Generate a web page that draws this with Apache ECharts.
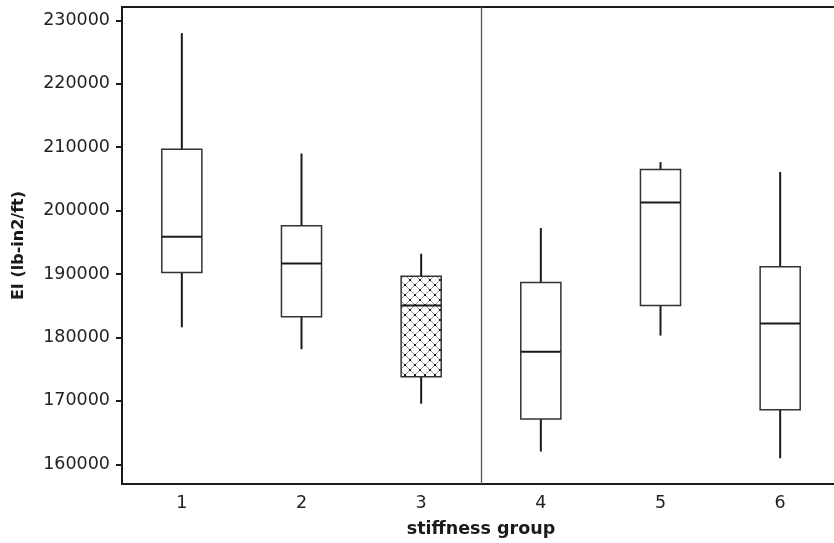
<!DOCTYPE html>
<html>
<head>
<meta charset="utf-8">
<script src="https://cdn.jsdelivr.net/npm/echarts@6/dist/echarts.min.js"></script>
<style>
  html, body { margin: 0; padding: 0; background: #ffffff; }
  #chart { width: 834px; height: 543px; }
</style>
</head>
<body>
<div id="chart"></div>
<script>
// stiffness groups and box statistics
const groups = ['1', '2', '3', '4', '5', '6'];
const lowWhisker  = [181600, 178150, 169550, 162000, 180300, 160950];
const q1          = [190250, 183250, 173800, 167150, 185050, 168600];
const median      = [195900, 191650, 185050, 177750, 201300, 182200];
const q3          = [209700, 197600, 189650, 188650, 206500, 191150];
const highWhisker = [228000, 209000, 193200, 197250, 207650, 206100];
const hatched     = [false, false, true, false, false, false];
const yTicks = [160000, 170000, 180000, 190000, 200000, 210000, 220000, 230000];

// crosshatch tile used for group 3
function makeHatch() {
    let c = document.createElement('canvas');
    c.width = 10; c.height = 10;
    let ctx = c.getContext('2d');
    ctx.fillStyle = '#ffffff';
    ctx.fillRect(0, 0, 10, 10);
    ctx.strokeStyle = '#999';
    ctx.lineWidth = 1;
    ctx.beginPath();
    ctx.moveTo(0, 0); ctx.lineTo(10, 10);
    ctx.moveTo(10, 0); ctx.lineTo(0, 10);
    ctx.stroke();
    ctx.fillStyle = '#1a1a1a';
    ctx.fillRect(4, 4, 2, 2);
    ctx.fillRect(0, 0, 1, 1); ctx.fillRect(9, 0, 1, 1);
    ctx.fillRect(0, 9, 1, 1); ctx.fillRect(9, 9, 1, 1);
    return c;
}
const hatchCanvas = makeHatch();

const boxData = groups.map((g, i) => [i, lowWhisker[i], q1[i], median[i], q3[i], highWhisker[i]]);

const ink = '#1a1a1a';

let myChart = echarts.init(document.getElementById('chart'));
myChart.setOption({
    animation: false,
    backgroundColor: '#ffffff',
    grid: {
        show: true,
        left: 122,
        top: 7,
        width: 718,
        bottom: 59,
        outerBoundsMode: 'none',
        containLabel: false,
        borderColor: ink,
        borderWidth: 2,
        backgroundColor: 'transparent'
    },
    xAxis: {
        type: 'category',
        data: groups,
        boundaryGap: true,
        name: 'stiffness group',
        nameLocation: 'middle',
        nameGap: 36,
        nameTextStyle: {
            fontFamily: 'DejaVu Sans',
            fontWeight: 'bold',
            fontSize: 17.5,
            color: ink
        },
        axisLine: { lineStyle: { color: ink, width: 2 } },
        axisTick: { alignWithLabel: true, length: 6, lineStyle: { color: ink, width: 2 } },
        axisLabel: { fontFamily: 'DejaVu Sans', fontSize: 17.5, color: '#222', margin: 10 },
        splitLine: { show: false }
    },
    yAxis: {
        type: 'value',
        min: 156890,
        max: 232115,
        name: 'EI (lb-in2/ft)',
        nameLocation: 'middle',
        nameGap: 95,
        nameRotate: 90,
        nameTextStyle: {
            fontFamily: 'DejaVu Sans',
            fontWeight: 'bold',
            fontSize: 16,
            color: ink
        },
        axisLine: { show: true, lineStyle: { color: ink, width: 2 } },
        axisTick: { show: true, length: 6, customValues: yTicks, lineStyle: { color: ink, width: 2 } },
        axisLabel: {
            customValues: yTicks,
            formatter: function (v) { return String(v); },
            fontFamily: 'DejaVu Sans', fontSize: 17.5, color: '#222', margin: 12
        },
        splitLine: { show: false }
    },
    series: [
        {
            // divider between groups 3 and 4
            type: 'custom',
            data: [[2, 3]],
            encode: { x: [0, 1] },
            renderItem: function (params, api) {
                let xa = api.coord([api.value(0), 0])[0];
                let xb = api.coord([api.value(1), 0])[0];
                let x = Math.round((xa + xb) / 2) + 0.5;
                let cs = params.coordSys;
                return {
                    type: 'line',
                    shape: { x1: x, y1: cs.y, x2: x, y2: cs.y + cs.height },
                    style: { stroke: '#555', lineWidth: 1.3 }
                };
            }
        },
        {
            type: 'custom',
            data: boxData,
            encode: { x: 0, y: [1, 2, 3, 4, 5] },
            renderItem: function (params, api) {
                let i = api.value(0);
                let x = api.coord([i, 0])[0];
                let w = api.size([1, 0])[0] * 0.335;
                let yLow = api.coord([i, api.value(1)])[1];
                let yQ1 = api.coord([i, api.value(2)])[1];
                let yMed = api.coord([i, api.value(3)])[1];
                let yQ3 = api.coord([i, api.value(4)])[1];
                let yHigh = api.coord([i, api.value(5)])[1];
                let fill = hatched[i] ? { image: hatchCanvas, repeat: 'repeat' } : '#ffffff';
                return {
                    type: 'group',
                    children: [
                        { type: 'line', shape: { x1: x, y1: yQ3, x2: x, y2: yHigh }, style: { stroke: ink, lineWidth: 2 } },
                        { type: 'line', shape: { x1: x, y1: yQ1, x2: x, y2: yLow }, style: { stroke: ink, lineWidth: 2 } },
                        { type: 'rect', shape: { x: x - w / 2, y: yQ3, width: w, height: yQ1 - yQ3 }, style: { fill: fill, stroke: '#333', lineWidth: 1.5 } },
                        { type: 'line', shape: { x1: x - w / 2, y1: yMed, x2: x + w / 2, y2: yMed }, style: { stroke: ink, lineWidth: 2 } }
                    ]
                };
            }
        }
    ]
});
</script>
</body>
</html>
